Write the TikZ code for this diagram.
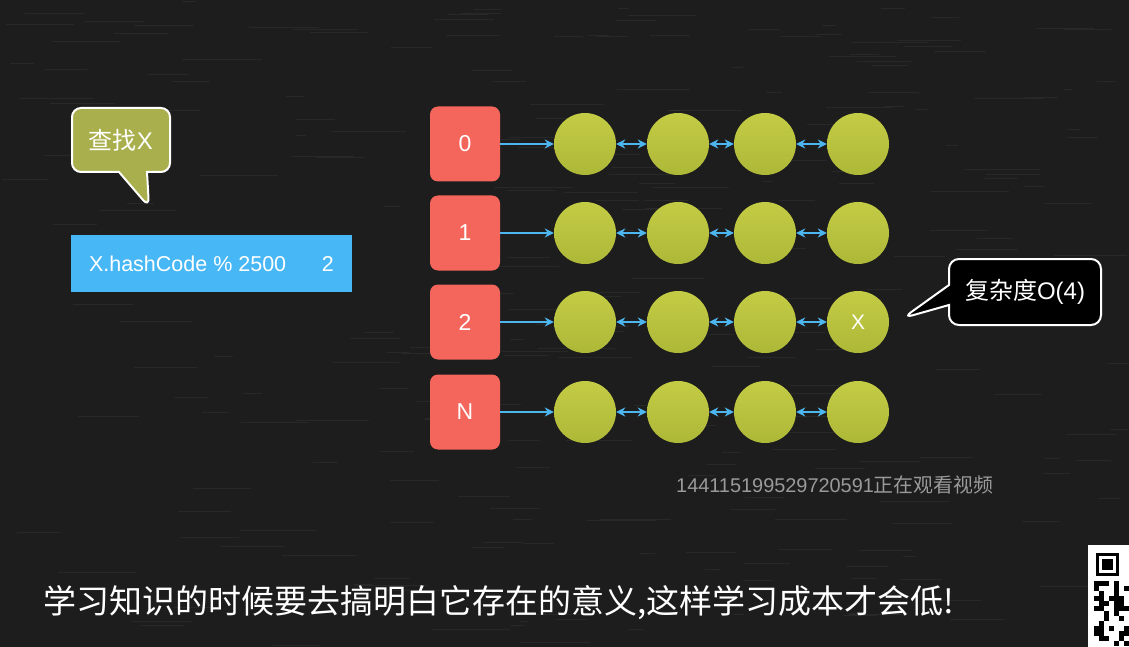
\documentclass[tikz,border=0pt]{standalone}
\usepackage{fontspec}
\setmainfont{Liberation Sans}
\newfontfamily\cjk{Noto Sans CJK SC}
\usetikzlibrary{arrows.meta,positioning,shapes.callouts}
\definecolor{BoardBg}{HTML}{1D1D1D}
\definecolor{SlotRed}{HTML}{F4655B}
\definecolor{NodeTop}{HTML}{C4CC45}
\definecolor{NodeBot}{HTML}{AEB838}
\definecolor{LinkBlue}{HTML}{4DB6EE}
\definecolor{HashBlue}{HTML}{47B7F5}
\definecolor{TipOlive}{HTML}{A9AF4C}
\definecolor{WaterGray}{HTML}{9A9A9A}
\tikzset{
  slot/.style={fill=SlotRed, rounded corners=8pt, minimum width=70pt,
    minimum height=75pt, text=white, font=\fontsize{23}{26}\selectfont},
  entry/.style={circle, minimum size=62pt, inner sep=0pt,
    top color=NodeTop, bottom color=NodeBot},
  link/.style={LinkBlue, line width=2pt, -{Stealth[length=9pt,width=9pt]}},
  dlink/.style={LinkBlue, line width=2pt,
    {Stealth[length=9pt,width=9pt]}-{Stealth[length=9pt,width=9pt]}},
  tip/.style={rectangle callout, draw=white, line width=2pt, text=white},
}

\begin{document}
\begin{tikzpicture}[x=1pt,y=-1pt]
  \useasboundingbox (0,0) rectangle (1129,647);
  \fill[BoardBg] (0,0) rectangle (1129,647);
  % chalk streaks
  \pgfmathsetseed{3}
  \foreach \i in {1,...,260} {
    \pgfmathsetmacro\tx{rnd*1129}
    \pgfmathsetmacro\ty{rnd*647}
    \pgfmathsetmacro\tl{rnd*70+10}
    \draw[white, opacity=0.05, line width=0.7pt] (\tx,\ty) -- ++(\tl,0);
  }

  % buckets and chains
  \foreach \lbl/\ypos [count=\r] in {0/144,1/233,2/322,N/412} {
    \node[slot] (slot\r) at (465,\ypos) {\lbl};
    \foreach \xpos [count=\c] in {585,678,765,858}
      \node[entry] (e\r-\c) at (\xpos,\ypos) {};
    \draw[link] (slot\r) -- (e\r-1);
    \foreach \a/\b in {1/2,2/3,3/4}
      \draw[dlink] (e\r-\a) -- (e\r-\b);
  }
  \node[text=white, font=\fontsize{21}{24}\selectfont] (xmark) at (e3-4) {X};

  % lookup
  \node[tip, fill=TipOlive, rounded corners=9pt, minimum width=98pt,
    minimum height=64pt, callout absolute pointer={(149,207)},
    callout pointer width=28pt, font=\fontsize{24}{26}\selectfont]
    (findtip) at (121,140) {{\cjk 查找}X};
  \node[fill=HashBlue, minimum width=281pt, minimum height=57pt, inner sep=0pt,
    text=white, font=\fontsize{21.5}{24}\selectfont]
    (hashbar) at (211.5,263.5) {\makebox[245pt][l]{X.hashCode \% 2500\hfill 2}};

  % cost
  \node[tip, fill=black, rounded corners=10pt, minimum width=152pt,
    minimum height=66pt, callout absolute pointer={(903,318)},
    callout pointer width=20pt, font=\fontsize{24}{26}\selectfont]
    (costtip) at (1025,292) {{\cjk 复杂度}O(4)};

  % overlays
  \node[anchor=west, inner sep=0pt, text=WaterGray, font=\fontsize{19.9}{22}\selectfont]
    (viewer) at (676,485) {144115199529720591{\cjk 正在观看视频}};
  \node[anchor=west, inner sep=0pt, text=white, font=\fontsize{33}{36}\selectfont\cjk]
    (subtitle) at (43,603) {学习知识的时候要去搞明白它存在的意义,这样学习成本才会低!};

  % qr code
  \fill[white] (1088,545) rectangle (1129,647);
  \fill[black] (1096,553) rectangle (1119,576);
  \fill[white] (1099,556) rectangle (1116,573);
  \fill[black] (1102,559) rectangle (1113,570);
  \pgfmathsetseed{11}
  \foreach \qx in {1094,1099,...,1124}
    \foreach \qy in {581,586,...,641} {
      \pgfmathparse{rnd>0.5 ? 1 : 0}
      \ifnum\pgfmathresult=1
        \fill[black] (\qx,\qy) rectangle ++(5,5);
      \fi
    }
\end{tikzpicture}
\end{document}
